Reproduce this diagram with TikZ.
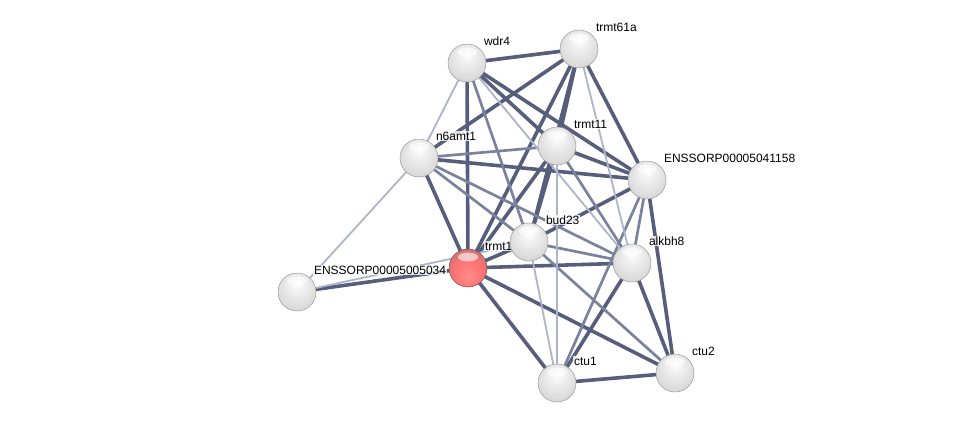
\documentclass[tikz,border=0pt]{standalone}
\usepackage{fontspec}
\setmainfont{Liberation Sans}
\usetikzlibrary{backgrounds}

\definecolor{edgedark}{RGB}{86,94,124}
\definecolor{edgemid}{RGB}{122,130,158}
\definecolor{edgelight}{RGB}{174,180,200}

% sphere shadings (outer rim centred, highlight moved up)
\pgfdeclareradialshading{greyball}{\pgfpoint{0bp}{12bp}}{%
  color(0bp)=(white); color(12bp)=(white!93!black);
  color(30bp)=(white!84!black); color(42bp)=(white!72!black);
  color(47bp)=(white!58!black); color(50bp)=(white!45!black)}
\pgfdeclareradialshading{redball}{\pgfpoint{0bp}{-12bp}}{%
  color(0bp)=(red!45!white); color(18bp)=(red!55!white);
  color(32bp)=(red!60!black!55!white); color(42bp)=(red!60!black!75);
  color(50bp)=(red!45!black)}

\begin{document}
\begin{tikzpicture}[
    x=1pt, y=-1pt, % pixel units, y grows downwards
    edge/.style={line cap=round}, % common to all connectors
    strong/.style={edge, line width=3.6pt, draw=edgedark}, % high score
    medium/.style={edge, line width=2.7pt, draw=edgemid}, % medium score
    weak/.style={edge, line width=1.8pt, draw=edgelight}, % low score
    ball/.style={circle, minimum size=38pt, inner sep=0pt, shading=greyball,
        draw=black!40, line width=0.5pt,
        path picture={\fill[white, opacity=0.6]
            (path picture bounding box.center) ++(0,11pt) ellipse (10pt and 4.5pt);}},
    query/.style={ball, shading=redball, draw=red!30!black!70}, % the queried protein
    lbl/.style={anchor=west, font=\fontsize{12}{14}\selectfont, fill=white,
        fill opacity=0.8, text opacity=1, inner sep=0.8pt}
]

    % Fix the page size
    \useasboundingbox (0,0) rectangle (976,428);

    % Proteins and their labels (trmt1 before bud23, which covers its label)
    \foreach \n/\s/\x/\y/\t in {
        w/ball/467/63/wdr4,
        t61/ball/579/49/trmt61a,
        n6/ball/419/158/n6amt1,
        t11/ball/557/146/trmt11,
        e41/ball/647/180/ENSSORP00005041158,
        e34/ball/297/292/ENSSORP00005005034,
        t1/query/468/268/trmt1,
        b/ball/529/242/bud23,
        a/ball/632/263/alkbh8,
        c1/ball/557/383/ctu1,
        c2/ball/675/373/ctu2} {
        \node[\s] (\n) at (\x,\y) {};
        \node[lbl] (\n-l) at ({\x+16},{\y-22}) {\t};
    }

    \begin{scope}[on background layer]
        % Strong links
        \foreach \a/\b in {w/t61, w/t1, w/t11, w/e41, t61/n6, t61/t1, t61/b,
            t61/t11, t61/e41, t11/e41, t11/t1, t11/b, n6/e41, n6/t1, e41/b,
            e41/c2, b/t1, t1/e34, t1/a, t1/c1, t1/c2, a/c1, a/c2, c1/c2}
            \draw[strong] (\a) -- (\b);

        % Medium links
        \foreach \a/\b in {w/b, n6/t11, n6/a, n6/b, e41/a, e41/c1, b/a,
            b/c2, t11/a}
            \draw[medium] (\a) -- (\b);

        % Weak links
        \foreach \a/\b in {w/n6, w/a, t61/a, t11/c1, n6/e34, e34/b, b/c1}
            \draw[weak] (\a) -- (\b);
    \end{scope}

\end{tikzpicture}
\end{document}
